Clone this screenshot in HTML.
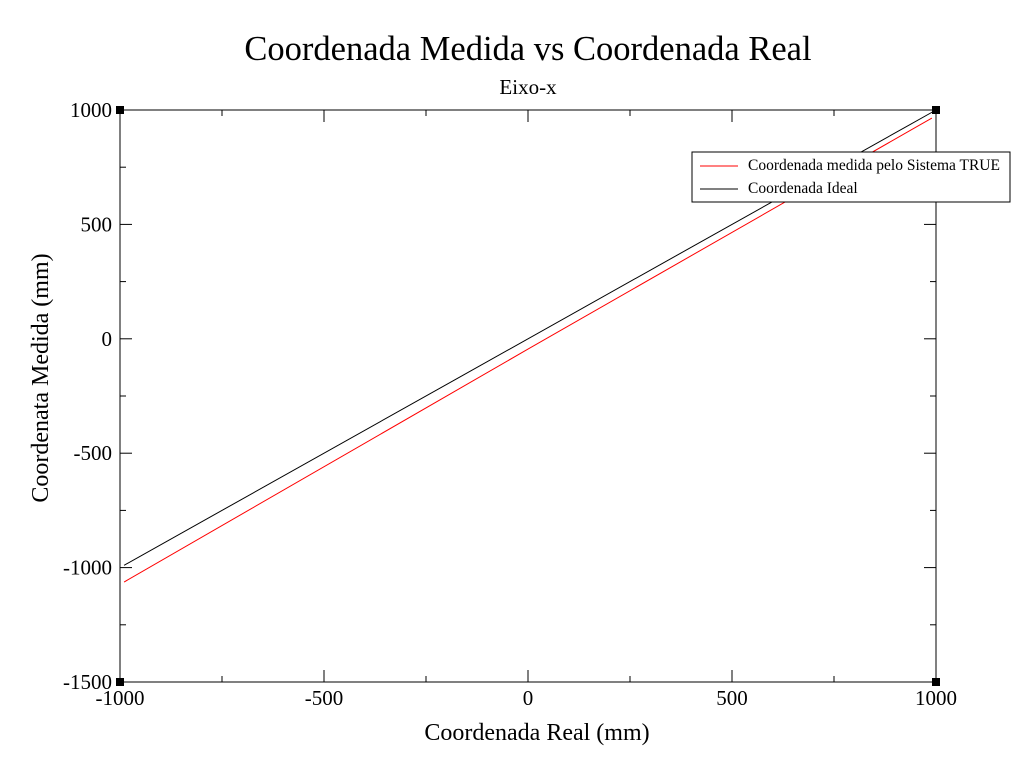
<!DOCTYPE html>
<html><head><meta charset="utf-8"><style>
body{margin:0;background:#fff}
svg{display:block;font-family:"Liberation Serif",serif}
</style></head><body>
<svg id="chart" width="1028" height="757" viewBox="0 0 1028 757">
<rect width="1028" height="757" fill="#fff"/>
<text x="528" y="60" font-size="34.5" text-anchor="middle">Coordenada Medida vs Coordenada Real</text>
<text x="528" y="94" font-size="21" text-anchor="middle">Eixo-x</text>
<g id="axes"></g>
<g id="series"></g>
<text x="537" y="740" font-size="24" text-anchor="middle">Coordenada Real (mm)</text>
<text transform="translate(48,378) rotate(-90)" font-size="24" text-anchor="middle">Coordenata Medida (mm)</text>
<g>
<rect x="692" y="152" width="318" height="50" fill="#fff" stroke="#000" stroke-width="1"/>
<line x1="700" y1="166" x2="738" y2="166" stroke="#f00"/>
<text x="748" y="170" font-size="15.5">Coordenada medida pelo Sistema TRUE</text>
<line x1="700" y1="189" x2="738" y2="189" stroke="#000"/>
<text x="748" y="193" font-size="15.5">Coordenada Ideal</text>
</g>
</svg>
<script>
const xTicks=[-1000,-500,0,500,1000];
const yTicks=[-1500,-1000,-500,0,500,1000];
const idealX=[-990,1000];
const idealY=[-990,1000];
const measuredX=[-990,0,990];
const measuredY=[-1063,-45,965];
const L=120,R=936,T=110,B=682;
const xs=v=>L+(v+1000)/2000*(R-L);
const ys=v=>B-(v+1500)/2500*(B-T);
const NS="http://www.w3.org/2000/svg";
const ax=document.getElementById('axes');
const se=document.getElementById('series');
function mk(p,tag,attrs){const e=document.createElementNS(NS,tag);for(const k in attrs)e.setAttribute(k,attrs[k]);p.appendChild(e);return e;}
const frame=mk(ax,'rect',{x:L,y:T,width:R-L,height:B-T,fill:'none',stroke:'#000','stroke-width':1});


for(let i=0;i<xTicks.length;i++){
  const v=xTicks[i],x=xs(v);
  const t1=mk(ax,'line',{x1:x,y1:B,x2:x,y2:B-12,stroke:'#000'});
  
  
  const t2=mk(ax,'line',{x1:x,y1:T,x2:x,y2:T+12,stroke:'#000'});
  
  
  if(i<xTicks.length-1){const m=xs((v+xTicks[i+1])/2);
    const m1=mk(ax,'line',{x1:m,y1:B,x2:m,y2:B-6,stroke:'#000'});
    
    
    const m2=mk(ax,'line',{x1:m,y1:T,x2:m,y2:T+6,stroke:'#000'});
    
    }
  const lb=mk(ax,'text',{x:x,y:B+23,'font-size':21,'text-anchor':'middle'});lb.textContent=v;
  
  
}
for(let i=0;i<yTicks.length;i++){
  const v=yTicks[i],y=ys(v);
  const t1=mk(ax,'line',{x1:L,y1:y,x2:L+12,y2:y,stroke:'#000'});
  
  
  const t2=mk(ax,'line',{x1:R,y1:y,x2:R-12,y2:y,stroke:'#000'});
  
  
  if(i<yTicks.length-1){const m=ys((v+yTicks[i+1])/2);
    const m1=mk(ax,'line',{x1:L,y1:m,x2:L+6,y2:m,stroke:'#000'});
    
    
    const m2=mk(ax,'line',{x1:R,y1:m,x2:R-6,y2:m,stroke:'#000'});
    
    }
  const lb=mk(ax,'text',{x:L-8,y:y+7,'font-size':21,'text-anchor':'end'});lb.textContent=v;
  
  
}
[[L,T],[R,T],[L,B],[R,B]].forEach(c=>{
  const s=mk(ax,'rect',{x:c[0]-4,y:c[1]-4,width:8,height:8,fill:'#000'});
  
  
});
function pts(X,Y){return X.map((x,i)=>xs(x)+','+ys(Y[i])).join(' ');}
const pm=mk(se,'polyline',{points:pts(measuredX,measuredY),fill:'none',stroke:'#f00','stroke-width':1});


const pi=mk(se,'polyline',{points:pts(idealX,idealY),fill:'none',stroke:'#000','stroke-width':1});


</script>
</body></html>
